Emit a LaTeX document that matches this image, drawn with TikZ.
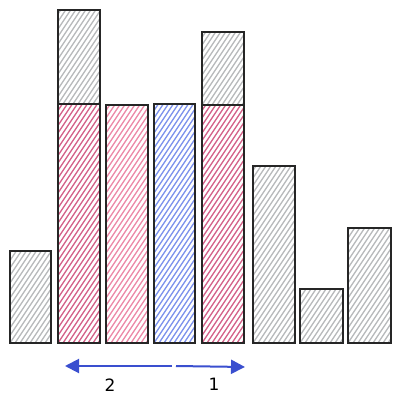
\documentclass[tikz,border=0pt]{standalone}
\usepackage{fontspec}
\setmainfont{DejaVu Sans}
\usetikzlibrary{arrows.meta}
\definecolor{hgray}{HTML}{B8BABC}
\definecolor{hpinkd}{HTML}{D4628A}
\definecolor{hpink}{HTML}{EC8AA8}
\definecolor{hblue}{HTML}{7D92EC}
\definecolor{arrowblue}{HTML}{3A4FCF}
\tikzset{
  hatchcol/.store in=\hatchcolor, hatchcol=hgray,
  barbox/.style={rectangle, draw=black!85, line width=1.3pt, inner sep=0pt, outer sep=0pt,
    path picture={
      \foreach \i in {-240,-235,...,48}{
        \draw[draw=\hatchcolor, line width=1.3pt]
          ([xshift=\i pt]path picture bounding box.south west) -- ++(232pt,348pt);
      }
    }},
  movearrow/.style={draw=arrowblue, line width=2pt, -{Triangle[length=14pt,width=14pt]}},
  numlabel/.style={font=\fontsize{17}{19}\selectfont, text=black}
}
\newcommand\mkbar[6]{%
  \node[barbox, hatchcol=#6, minimum width={(#4-#2)*1pt}, minimum height={(#5-#3)*1pt}]
    (#1) at ({(#2+#4)/2},{(#3+#5)/2}) {};}
\begin{document}
\begin{tikzpicture}[x=1pt,y=-1pt]
\useasboundingbox (0,0) rectangle (400,408);
\mkbar{b1}{10}{251}{51}{343}{hgray}
\mkbar{b2top}{58}{10}{100}{104}{hgray}
\mkbar{b2}{58}{104}{100}{343}{hpinkd}
\mkbar{b3}{106}{105}{148}{343}{hpink}
\mkbar{b4}{154}{104}{195}{343}{hblue}
\mkbar{b5top}{202}{32}{244}{105}{hgray}
\mkbar{b5}{202}{105}{244}{343}{hpinkd}
\mkbar{b6}{253}{166}{295}{343}{hgray}
\mkbar{b7}{300}{289}{343}{343}{hgray}
\mkbar{b8}{348}{228}{391}{343}{hgray}
\coordinate (lstart) at (172,366);
\coordinate (lend) at (65,366);
\coordinate (rstart) at (176,366);
\coordinate (rend) at (245,367);
\draw[movearrow] (lstart) -- (lend);
\draw[movearrow] (rstart) -- (rend);
\node[numlabel] (n2) at (110,385) {2};
\node[numlabel] (n1) at (214,384) {1};
\end{tikzpicture}
\end{document}
